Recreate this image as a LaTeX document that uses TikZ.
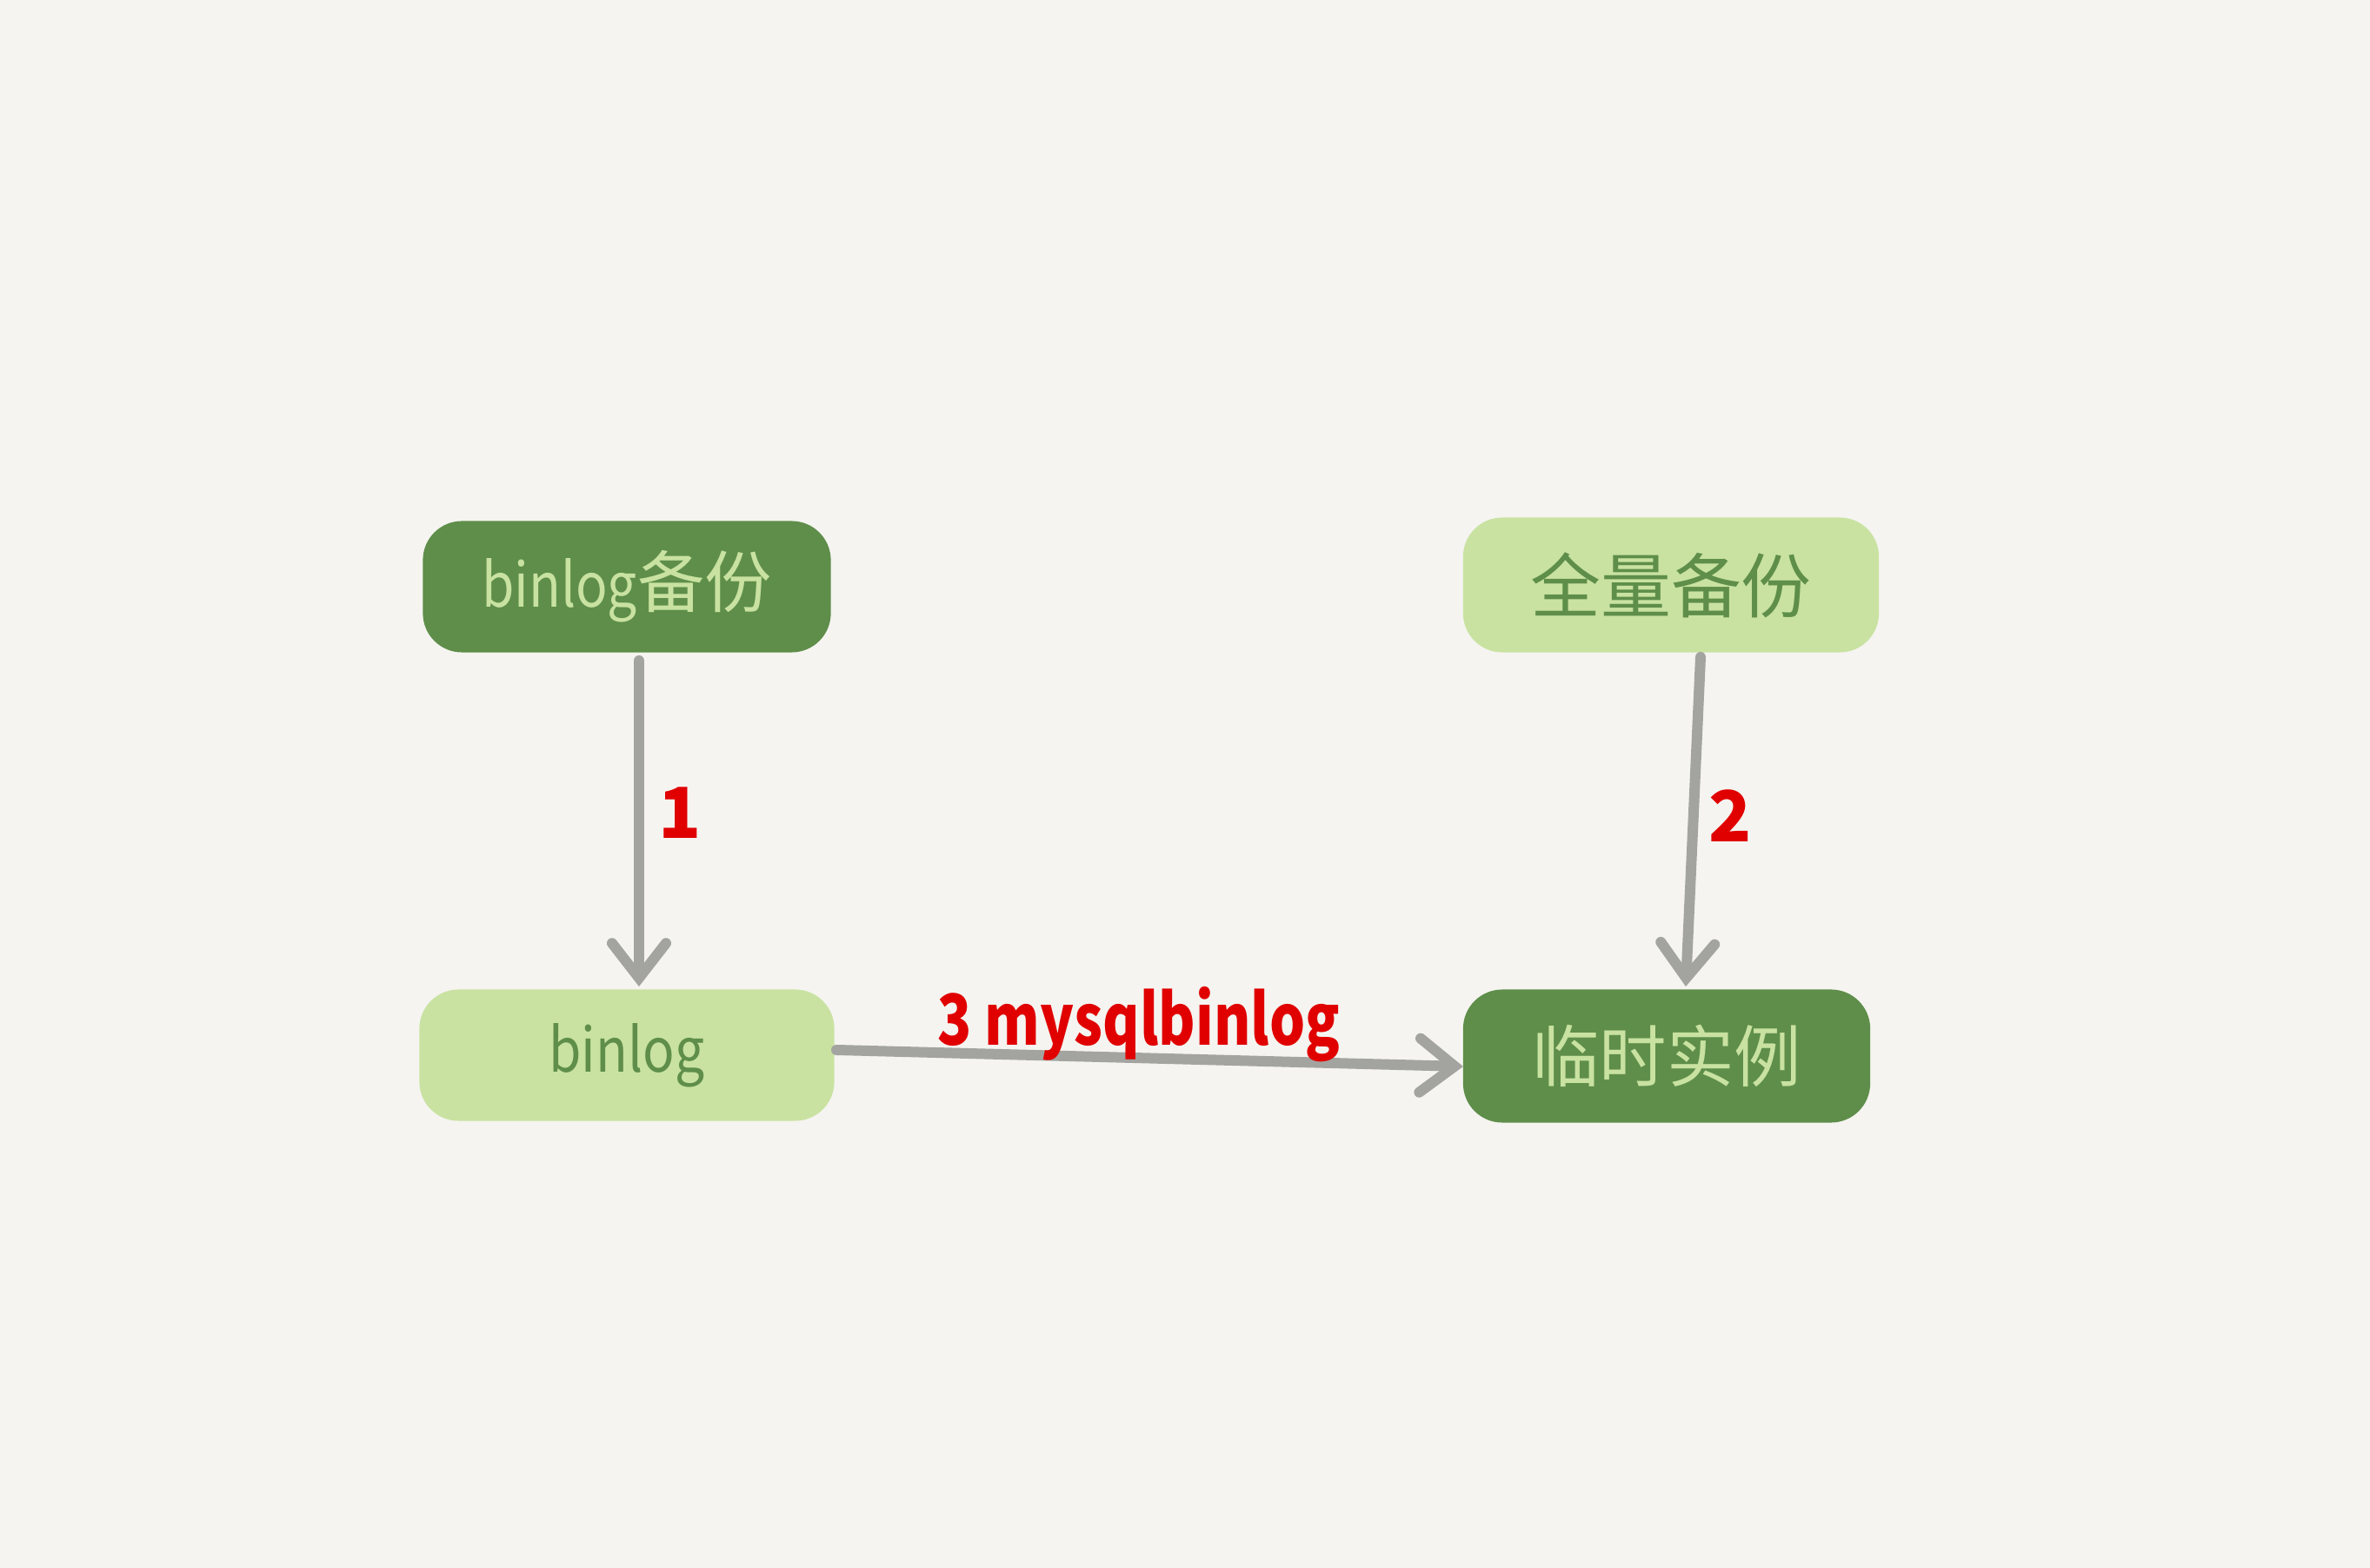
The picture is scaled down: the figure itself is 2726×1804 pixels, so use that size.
\documentclass[tikz,border=0pt]{standalone}
\usepackage{fontspec}
\setmainfont{Noto Sans CJK SC}
\newfontfamily\cjk{Noto Sans CJK SC}
\usetikzlibrary{arrows.meta}
\definecolor{bgc}{HTML}{F5F4F0}
\definecolor{darkg}{HTML}{5E8E4A}
\definecolor{lightg}{HTML}{C9E2A1}
\definecolor{arrg}{HTML}{A3A4A0}
\definecolor{redl}{HTML}{E00000}
\newcommand{\lat}[1]{{\fontsize{20}{22}\selectfont\scalebox{0.86}[1]{#1}}}
\tikzset{
  box/.style={rounded corners=0.45cm, minimum width=4.72cm, minimum height=1.52cm, inner sep=0pt, font=\cjk\fontsize{22}{26}\selectfont},
  darkbox/.style={box, fill=darkg, text=lightg},
  lightbox/.style={box, fill=lightg, text=darkg},
  conn/.style={draw=arrg, line width=0.12cm, line cap=round, -{Straight Barb[length=0.4cm,width=0.62cm,line cap=round]}},
  lbl/.style={text=redl, font=\cjk\bfseries\fontsize{23}{26}\selectfont, inner sep=0pt}
}
\begin{document}
\begin{tikzpicture}[x=0.01cm,y=-0.01cm]
\fill[bgc] (0,0) rectangle (2726,1804);
\useasboundingbox (0,0) rectangle (2726,1804);
\node[darkbox, minimum width=4.69cm, minimum height=1.51cm] (A) at (721,675) {\lat{binlog}备份};
\node[lightbox, minimum width=4.78cm, minimum height=1.55cm, font=\cjk\fontsize{23}{26}\selectfont] (B) at (1922,673) {全量备份};
\node[lightbox, minimum width=4.77cm, minimum height=1.51cm] (C) at (721,1214) {\lat{binlog}};
\node[darkbox, minimum width=4.68cm, minimum height=1.53cm] (D) at (1917,1215) {临时实例};
\coordinate (a1) at (735,760);
\coordinate (a2) at (735,1135);
\coordinate (b1) at (1956,756);
\coordinate (b2) at (1939,1135);
\coordinate (c1) at (962,1208);
\coordinate (c2) at (1683,1227);
\draw[conn] (a1) -- (a2);
\draw[conn] (b1) -- (b2);
\draw[conn] (c1) -- (c2);
\node[lbl] (l1) at (782,935) {1};
\node[lbl] (l2) at (1990,939) {2};
\node[lbl, anchor=base] (l3) at (1310,1203) {\scalebox{0.8}[1]{3 mysqlbinlog}};
\end{tikzpicture}
\end{document}
